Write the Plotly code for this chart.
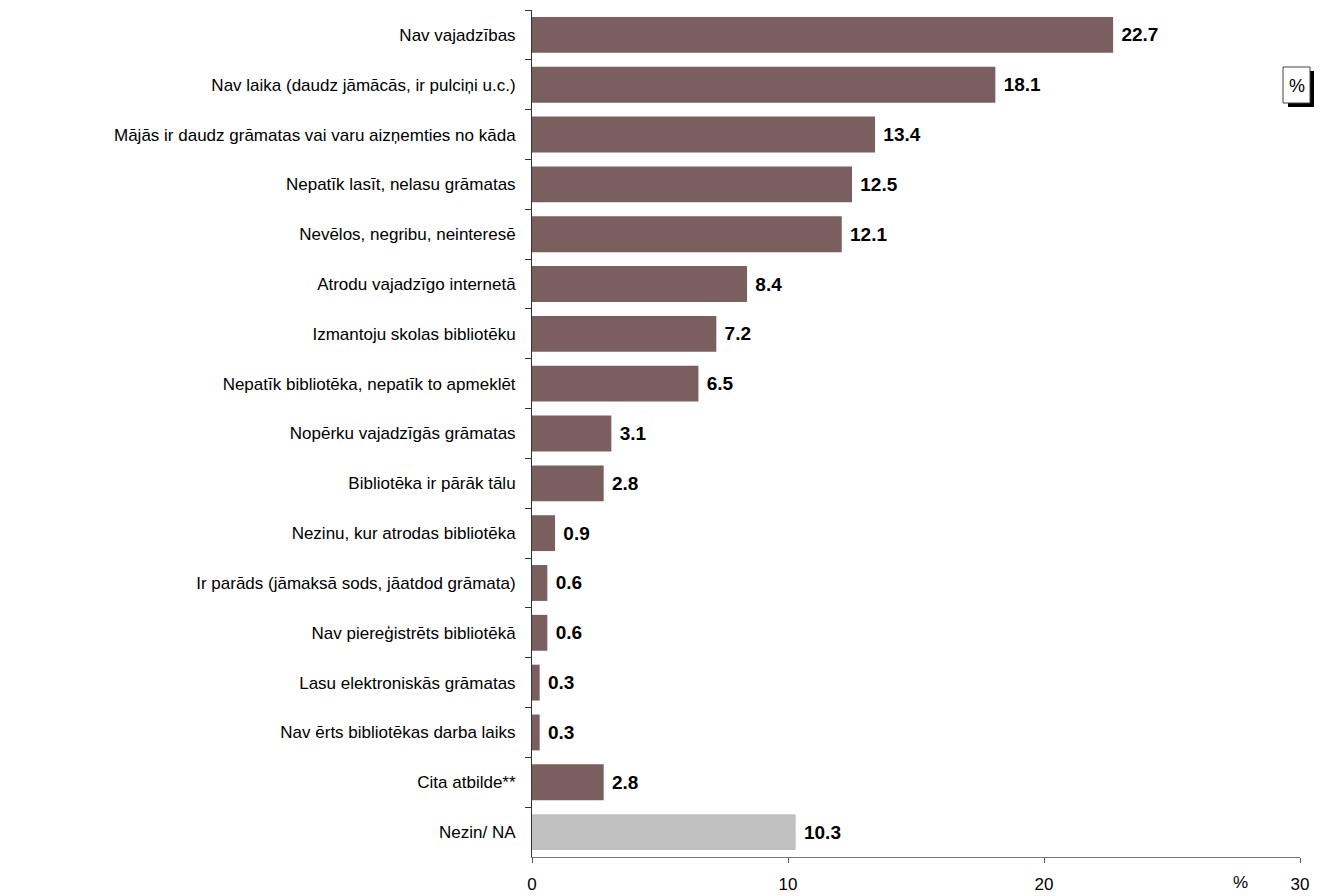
import plotly.graph_objects as go

categories = [
    "Nav vajadzības",
    "Nav laika (daudz jāmācās, ir pulciņi u.c.)",
    "Mājās ir daudz grāmatas vai varu aizņemties no kāda",
    "Nepatīk lasīt, nelasu grāmatas",
    "Nevēlos, negribu, neinteresē",
    "Atrodu vajadzīgo internetā",
    "Izmantoju skolas bibliotēku",
    "Nepatīk bibliotēka, nepatīk to apmeklēt",
    "Nopērku vajadzīgās grāmatas",
    "Bibliotēka ir pārāk tālu",
    "Nezinu, kur atrodas bibliotēka",
    "Ir parāds (jāmaksā sods, jāatdod grāmata)",
    "Nav piereģistrēts bibliotēkā",
    "Lasu elektroniskās grāmatas",
    "Nav ērts bibliotēkas darba laiks",
    "Cita atbilde**",
    "Nezin/ NA",
]
values = [22.7, 18.1, 13.4, 12.5, 12.1, 8.4, 7.2, 6.5, 3.1, 2.8, 0.9, 0.6, 0.6, 0.3, 0.3, 2.8, 10.3]
x_ticks = [0, 10, 20, 30]

colors = ["#7B5E5E"] * (len(categories) - 1) + ["#C0C0C0"]

# plot area target in page pixels
L, R_PX, T, B_PX = 532, 1300, 10, 857
PW, PH = R_PX - L, B_PX - T

def px(x):
    return (x - L) / PW

def py(y):
    return (B_PX - y) / PH

fig = go.Figure(go.Bar(
    x=values,
    y=categories,
    orientation="h",
    marker=dict(color=colors, line=dict(width=0)),
    text=[f" {v:.1f}" for v in values],
    textposition="outside",
    textfont=dict(family="Liberation Sans", size=19, color="black", weight="bold"),
    cliponaxis=False,
))

fig.update_layout(
    width=1325, height=896,
    margin=dict(l=L, r=1325 - R_PX, t=T, b=896 - B_PX),
    paper_bgcolor="white", plot_bgcolor="white",
    font=dict(family="Liberation Sans", size=17, color="black"),
    bargap=0.28,
    showlegend=False,
    xaxis=dict(
        range=[0, 30], tickvals=x_ticks, showgrid=False, zeroline=False,
        showline=True, linecolor="#777777", linewidth=1,
        ticks="outside", ticklen=5, tickcolor="#555555",
        ticklabelstandoff=7, tickfont=dict(size=17), automargin=False,
    ),
    yaxis=dict(
        autorange="reversed", showgrid=False, zeroline=False,
        showline=True, linecolor="#333333", linewidth=1,
        ticks="outside", ticklen=6, tickcolor="#333333", tickson="boundaries",
        ticklabelstandoff=12, automargin=False,
    ),
    shapes=[
        dict(type="rect", xref="paper", yref="paper",
             x0=px(1288), x1=px(1314), y0=py(107), y1=py(71),
             fillcolor="black", line=dict(width=0)),
        dict(type="rect", xref="paper", yref="paper",
             x0=px(1283), x1=px(1310), y0=py(103), y1=py(67),
             fillcolor="white", line=dict(color="#444444", width=1)),
    ],
    annotations=[
        dict(text="%", xref="paper", yref="paper",
             x=px(1296.5), y=py(86),
             showarrow=False, font=dict(size=18), xanchor="center", yanchor="middle"),
        dict(text="%", xref="paper", yref="paper",
             x=px(1240), y=py(883),
             showarrow=False, font=dict(size=17), xanchor="center", yanchor="middle"),
    ],
)

fig.write_html("out.html", config={"displayModeBar": False},
               post_script="document.body.style.margin='0';")
